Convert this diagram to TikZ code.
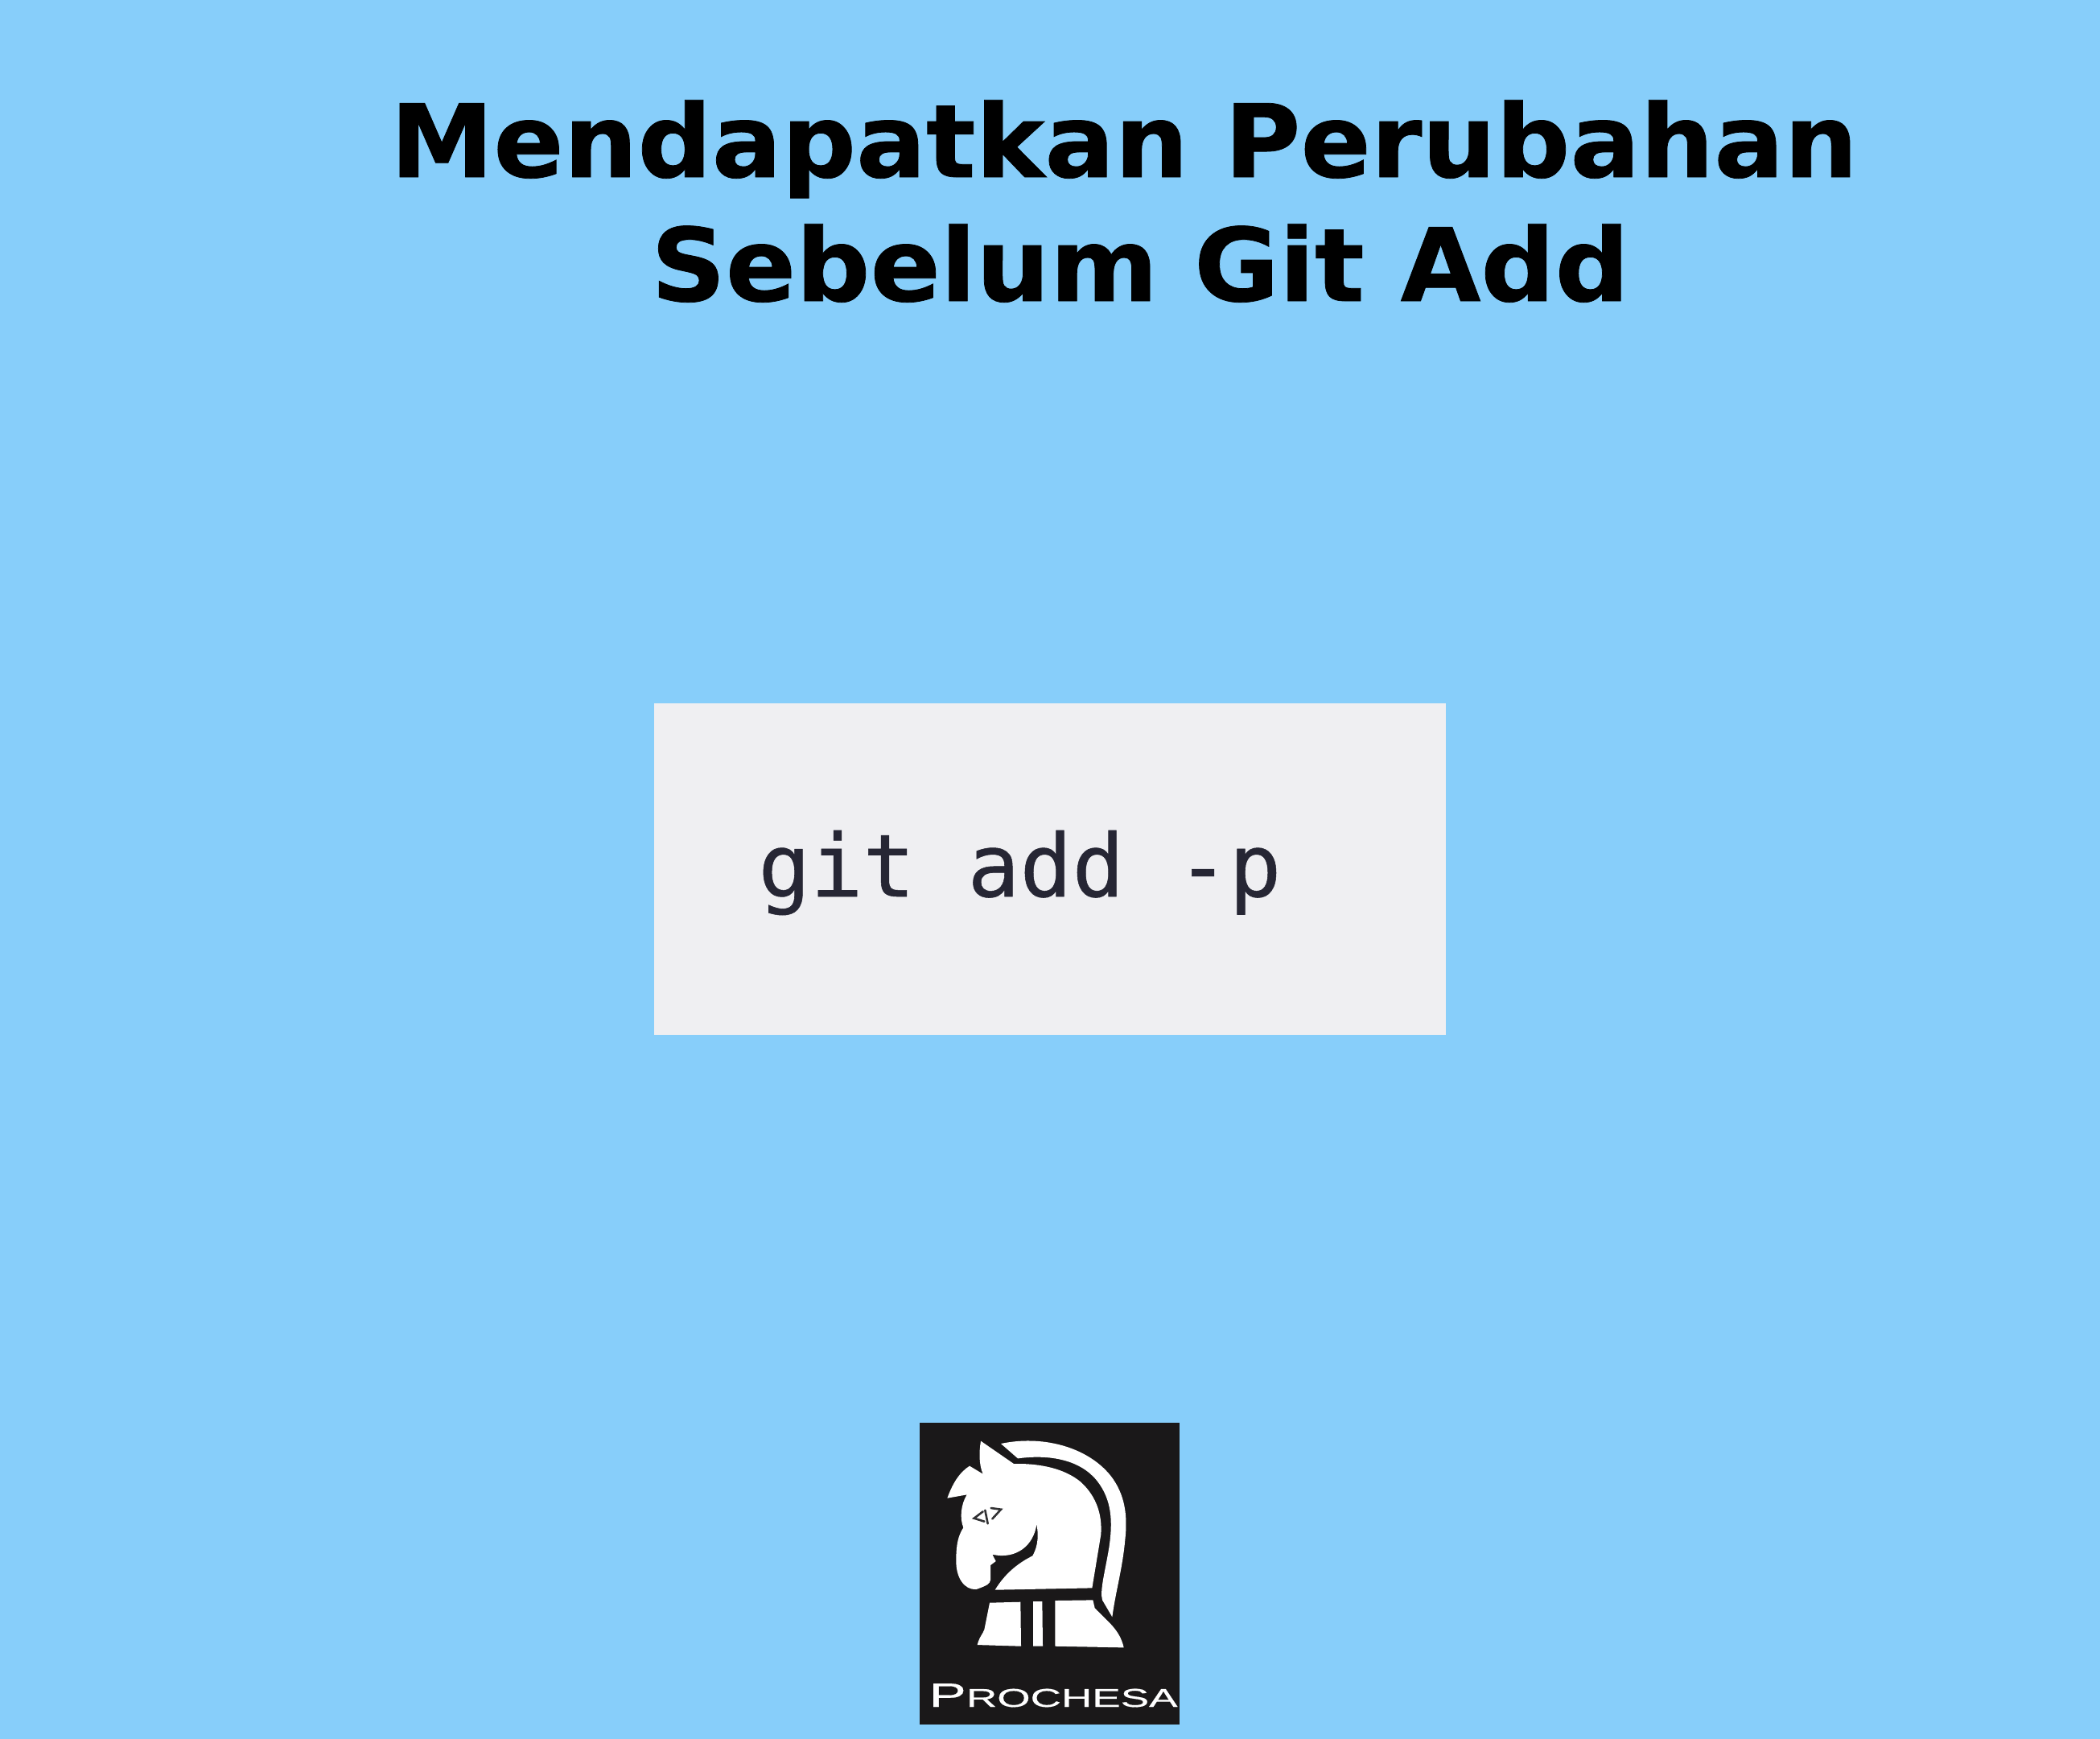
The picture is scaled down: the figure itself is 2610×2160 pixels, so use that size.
\documentclass[tikz,border=0pt]{standalone}
\usepackage{fontspec}
\setmainfont{DejaVu Sans}
\newfontfamily\titlefont[FakeStretch=1.023,FakeBold=0.6]{DejaVu Sans Bold}
\newfontfamily\codefont[FakeBold=0.5]{DejaVu Sans Mono}
\newfontfamily\logofont[FakeBold=0.4]{Liberation Sans}
\definecolor{bgblue}{RGB}{135,206,250}
\definecolor{codebg}{RGB}{239,239,242}
\definecolor{codeink}{RGB}{38,38,52}
\definecolor{logobg}{RGB}{26,24,25}
\definecolor{eyeink}{RGB}{50,50,52}
\tikzset{
  titletext/.style={anchor=base,inner sep=0pt,text=black,font=\titlefont\fontsize{63}{63}\selectfont},
  codetext/.style={anchor=base west,inner sep=0pt,text=codeink,font=\codefont\fontsize{54}{54}\selectfont},
  logotext/.style={anchor=base,inner sep=0pt,text=white,font=\logofont,xscale=1.66,transform shape},
  horse/.style={fill=white,draw=none},
  eyeline/.style={draw=eyeink,line width=1.3pt}
}
\begin{document}
\begin{tikzpicture}[x=0.5pt,y=-0.5pt]
\useasboundingbox (0,0) rectangle (2610,2160);
\fill[bgblue] (-10,-10) rectangle (2620,2170);
\node[titletext] (title1) at (1397,220) {Mendapatkan Perubahan};
\node[titletext] (title2) at (1417,374) {Sebelum Git Add};
\fill[codebg] (813,874) rectangle (1797,1286);
\node[codetext] (code) at (942,1114) {git add -p};
\fill[logobg] (1143,1768) rectangle (1466,2143);
\begin{scope}[shift={(1120,1750)},x=0.16667pt,y=-0.16667pt]
  % head
  \fill[horse] (297,122) -- (420,207) .. controls (520,205) and (610,225) .. (670,275)
    .. controls (730,330) and (750,400) .. (745,470) -- (712,670) -- (350,677)
    .. controls (385,620) and (430,580) .. (490,550)
    .. controls (512,510) and (512,470) .. (505,432)
    .. controls (495,510) and (430,565) .. (340,545)
    -- (353,570) -- (333,585) -- (333,640) .. controls (330,655) and (322,660) .. (280,675)
    .. controls (235,678) and (203,630) .. (205,565)
    .. controls (205,510) and (212,475) .. (232,445)
    .. controls (218,410) and (222,360) .. (245,322)
    -- (172,335) .. controls (190,285) and (215,240) .. (255,215)
    -- (305,245) .. controls (290,210) and (290,165) .. (297,122) -- cycle;
  % mane
  \fill[horse] (372,132) .. controls (520,100) and (690,140) .. (780,250)
    .. controls (835,320) and (845,400) .. (835,490)
    .. controls (825,600) and (800,680) .. (787,778)
    -- (750,715) .. controls (740,680) and (760,610) .. (775,520)
    .. controls (790,420) and (785,340) .. (730,270)
    .. controls (670,195) and (560,170) .. (435,187) -- cycle;
  % base
  \fill[horse] (330,725) -- (445,722) -- (447,887) -- (284,882)
    .. controls (290,855) and (305,840) .. (310,825) -- cycle;
  \fill[horse] (492,720) -- (526,720) -- (528,887) -- (492,887) -- cycle;
  \fill[horse] (574,717) -- (715,715) -- (722,745)
    .. controls (770,795) and (815,825) .. (830,892) -- (574,887) -- cycle;
  % eye
  \draw[eyeline,line cap=round] (305,385) -- (272,410) -- (310,422);
  \draw[eyeline,line cap=round] (313,380) -- (323,430);
  \draw[eyeline,line cap=round] (335,372) -- (372,377) -- (340,412);
\end{scope}
\node[logotext] (logo) at (1309,2121) {{\fontsize{21}{21}\selectfont P}{\fontsize{16}{16}\selectfont ROCHESA}};
\end{tikzpicture}
\end{document}
